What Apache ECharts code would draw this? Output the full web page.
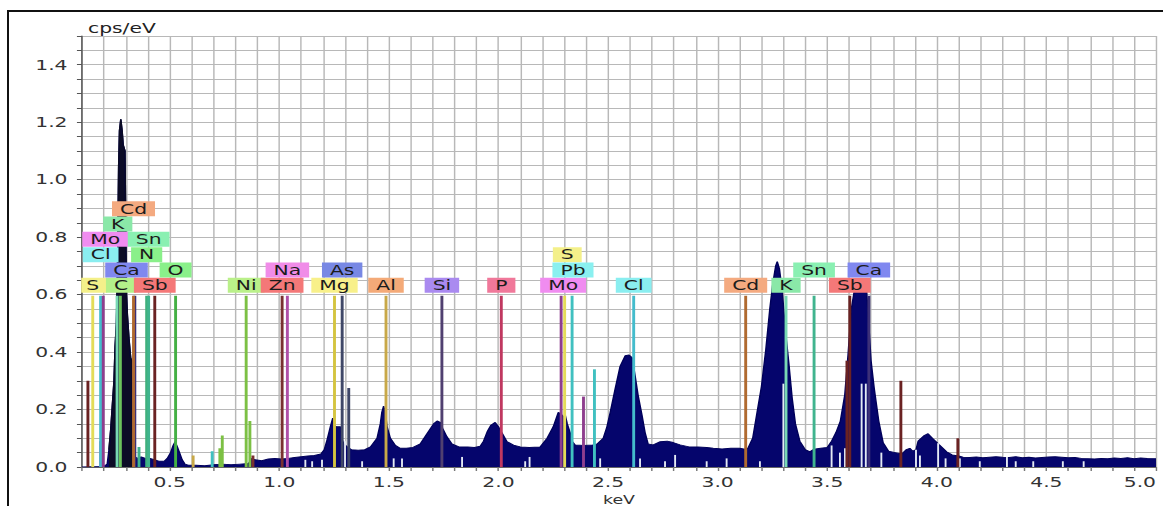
<!DOCTYPE html>
<html><head><meta charset="utf-8">
<script src="https://cdn.jsdelivr.net/npm/echarts@6/dist/echarts.min.js"></script>
<style>
html,body{margin:0;padding:0;background:#fff;overflow:hidden;width:1163px;height:506px;}
#frame{position:absolute;left:7px;top:10px;width:1200px;height:520px;border-left:2px solid #111;border-top:2px solid #111;box-sizing:border-box;}
#chart{position:absolute;left:0;top:0;width:802px;height:506px;transform:scaleX(1.45012);transform-origin:0 0;}
</style></head><body>
<div id="frame"></div>
<div id="chart"></div>
<script>
// ---------- DATA ----------
// EDS spectrum: [energy keV, cps/eV]
const spectrum = [
[0.10,0],[0.20,0.002],[0.215,0.01],[0.223,0.06],[0.231,0.13],[0.238,0.21],[0.246,0.30],[0.251,0.42],[0.257,0.50],[0.262,0.70],[0.267,1.04],[0.271,1.17],[0.277,1.21],[0.283,1.17],[0.288,1.12],[0.296,1.10],[0.300,0.80],[0.303,0.60],[0.307,0.53],[0.314,0.45],[0.322,0.38],[0.327,0.37],[0.331,0.12],[0.336,0.04],
[0.35,0.03],[0.37,0.035],[0.39,0.03],[0.41,0.03],[0.43,0.025],[0.45,0.02],[0.475,0.02],[0.489,0.03],[0.504,0.05],[0.516,0.075],[0.525,0.088],[0.535,0.07],[0.545,0.05],[0.557,0.025],[0.57,0.01],[0.585,0.006],
[0.62,0.006],[0.66,0.004],[0.70,0.008],[0.74,0.01],[0.78,0.008],[0.82,0.01],[0.86,0.012],[0.875,0.03],[0.89,0.025],[0.92,0.022],[0.95,0.028],[0.98,0.03],[1.01,0.028],[1.04,0.03],[1.07,0.033],[1.10,0.036],[1.13,0.038],[1.16,0.04],[1.19,0.045],
[1.205,0.06],[1.218,0.094],[1.233,0.14],[1.244,0.17],[1.252,0.145],[1.26,0.14],[1.279,0.14],[1.287,0.095],[1.295,0.08],[1.31,0.07],[1.33,0.06],[1.36,0.058],[1.39,0.06],[1.416,0.07],[1.446,0.10],[1.461,0.15],[1.468,0.19],[1.476,0.212],[1.484,0.19],[1.492,0.14],[1.507,0.10],[1.53,0.075],[1.552,0.065],[1.58,0.065],[1.61,0.068],
[1.643,0.08],[1.674,0.116],[1.704,0.15],[1.72,0.16],[1.735,0.155],[1.745,0.135],[1.765,0.105],[1.788,0.08],[1.82,0.07],[1.86,0.07],[1.89,0.068],[1.917,0.072],[1.932,0.09],[1.95,0.125],[1.965,0.145],[1.985,0.155],[2.0,0.14],[2.015,0.12],[2.039,0.088],[2.069,0.076],[2.10,0.07],[2.14,0.068],[2.19,0.07],
[2.222,0.10],[2.25,0.14],[2.273,0.19],[2.285,0.185],[2.295,0.175],[2.305,0.18],[2.314,0.15],[2.327,0.12],[2.336,0.09],[2.35,0.077],[2.39,0.075],[2.43,0.077],[2.45,0.08],[2.478,0.10],[2.495,0.14],[2.51,0.19],[2.532,0.27],[2.555,0.35],[2.578,0.387],[2.596,0.39],[2.61,0.38],[2.623,0.32],[2.637,0.25],[2.655,0.18],[2.669,0.12],[2.683,0.08],[2.706,0.077],[2.738,0.088],[2.77,0.09],[2.797,0.085],[2.829,0.077],[2.87,0.07],[2.91,0.07],[2.95,0.068],[2.98,0.065],[3.02,0.063],[3.06,0.065],[3.10,0.065],[3.125,0.062],
[3.138,0.065],[3.16,0.10],[3.18,0.19],[3.20,0.28],[3.22,0.41],[3.238,0.55],[3.252,0.64],[3.265,0.70],[3.272,0.715],[3.282,0.69],[3.295,0.61],[3.31,0.47],[3.325,0.36],[3.34,0.24],[3.355,0.15],[3.375,0.09],[3.40,0.06],[3.42,0.053],[3.44,0.062],[3.47,0.065],[3.50,0.068],[3.52,0.09],[3.54,0.12],[3.56,0.16],[3.58,0.25],[3.595,0.39],[3.61,0.55],[3.625,0.62],[3.64,0.64],[3.66,0.645],[3.678,0.635],[3.686,0.54],[3.70,0.37],[3.715,0.27],[3.735,0.16],[3.755,0.085],[3.78,0.055],[3.81,0.05],[3.84,0.045],[3.86,0.06],[3.877,0.065],[3.89,0.055],[3.905,0.06],[3.915,0.09],[3.94,0.108],[3.96,0.116],[3.98,0.10],[4.01,0.078],[4.045,0.053],[4.07,0.042],[4.10,0.038],
[4.12,0.034],[4.15,0.033],[4.18,0.035],[4.21,0.032],[4.24,0.034],[4.27,0.036],[4.30,0.034],[4.33,0.033],[4.36,0.036],[4.39,0.032],[4.42,0.034],[4.45,0.031],[4.48,0.033],[4.51,0.035],[4.54,0.036],[4.57,0.034],[4.60,0.032],[4.63,0.033],[4.66,0.030],[4.69,0.029],[4.72,0.028],[4.75,0.030],[4.78,0.029],[4.81,0.031],[4.84,0.030],[4.87,0.032],[4.90,0.029],[4.93,0.031],[4.96,0.030],[5.0,0.029]
];

// Identified element lines (labelled)
const elementNames = ['S','Cl','Mo','K','C','Ca','Cd','N','Sn','Sb','O','Ni','Zn','Na','Mg','As','Al','Si','P','Mo','S','Pb','Cl','Cd','K','Sn','Sb','Ca'];
const elementKeV   = [0.149,0.185,0.197,0.260,0.275,0.341,0.335,0.395,0.404,0.432,0.527,0.849,1.013,1.037,1.252,1.287,1.487,1.742,2.013,2.286,2.302,2.336,2.617,3.128,3.312,3.440,3.603,3.690];
const markerTop = 0.596;   // marker line height, cps/eV

// Secondary (unlabelled) element lines: [keV, height, element]
const minorLines = [
[0.127,0.30,'Sb'],[0.185,0.09,'Na'],[0.36,0.07,'Sn'],[0.607,0.04,'Al'],[0.694,0.055,'Pb'],[0.729,0.065,'Ni'],[0.740,0.11,'Ni'],[0.866,0.16,'Ni'],[0.88,0.04,'Zn'],
[1.317,0.275,'As'],[2.388,0.245,'Mo'],[2.438,0.34,'Pb'],[3.59,0.37,'Sb'],[3.836,0.30,'Sb'],[4.096,0.10,'Sb']
];
// Faint lines inside the spectrum: [keV, height]
const paleLines = [
[1.119,0.025],[1.150,0.02],[1.195,0.025],[1.30,0.09],[1.378,0.02],[1.522,0.03],[1.56,0.03],[1.834,0.035],[2.122,0.02],[2.142,0.035],[2.464,0.03],[2.646,0.03],[2.76,0.02],[2.806,0.042],[2.95,0.02],[3.041,0.03],[3.193,0.02],[3.30,0.29],[3.52,0.075],[3.558,0.05],[3.581,0.065],[3.657,0.29],[3.676,0.29],[3.747,0.05],[3.905,0.06],[3.923,0.04],[4.006,0.083],[4.04,0.03],[4.105,0.03],[4.196,0.02],[4.32,0.035],[4.36,0.02],[4.44,0.02],[4.575,0.02],[4.67,0.02]
];

// ---------- LAYOUT / STYLE ----------
const labelRow   = [0,2,3,4,0,1,5,2,3,0,1,0,0,1,0,1,0,0,0,0,2,1,0,0,0,1,0,1];
const labelShift = [0,0,0.009,0.003,0.003,-0.038,0,0,0,0,0,0,0,0,0,0,0,0,0,0.009,0.012,0.004,0,0,0,0,0,0];
const darkPeakRange = [0.22, 0.335];   // strongest peak drawn in near-black
const STYLE = {
  S:{box:'#f4f08a',line:'#e4dc58'}, Cl:{box:'#8aeef0',line:'#44bccc'}, Mo:{box:'#f08cf0',line:'#8e3e8e'},
  K:{box:'#8ae8a8',line:'#78d8b4'}, C:{box:'#b4f08a',line:'#6cc45c'}, Ca:{box:'#8088f0',line:'#3c3078'},
  Cd:{box:'#f4aa80',line:'#b06a30'}, N:{box:'#8af08a',line:'#40b07c'}, Sn:{box:'#8af0b2',line:'#40b48e'},
  Sb:{box:'#f47878',line:'#6a2222'}, O:{box:'#8af08a',line:'#44b044'}, Ni:{box:'#baf08a',line:'#7cc044'},
  Zn:{box:'#f47878',line:'#7a3030'}, Na:{box:'#f08ce8',line:'#b050a8'}, Mg:{box:'#f8f08a',line:'#d4c440'},
  As:{box:'#7888e4',line:'#404868'}, Al:{box:'#f4aa78',line:'#c8a848'}, Si:{box:'#aa8af0',line:'#504070'},
  P:{box:'#f0789a',line:'#c03860'}, Pb:{box:'#8af0f0',line:'#40c0c0'}
};
const FONT = '"DejaVu Sans", Verdana, sans-serif';

const chart = echarts.init(document.getElementById('chart'), null, {renderer:'svg'});

function vline(color, width) {
  return function (params, api) {
    const p0 = api.coord([api.value(0), 0]);
    const p1 = api.coord([api.value(0), api.value(1)]);
    const c = typeof color === 'function' ? color(api.value(2)) : color;
    return {type:'line', shape:{x1:p0[0], y1:p0[1], x2:p1[0], y2:p1[1]}, style:{stroke:c, lineWidth:width}};
  };
}

const option = {
  animation:false,
  backgroundColor:'transparent',
  title:{text:'cps/eV', left:60.7, top:21, padding:0,
    textStyle:{fontFamily:FONT, fontSize:14, fontWeight:'normal', color:'#222'}},
  grid:{left:56.55, right:4.83, top:36, bottom:39, containLabel:false, outerBoundsMode:'none'},
  xAxis:{type:'value', min:0.1, max:5.0, interval:0.1,
    axisLine:{show:true, onZero:false, lineStyle:{color:'#666', width:1}},
    axisTick:{show:true, length:4, lineStyle:{color:'#777'}},
    axisLabel:{fontFamily:FONT, fontSize:14, color:'#333', margin:8, showMaxLabel:true, showMinLabel:true,
      alignMaxLabel:'right',
      formatter:v => (Math.abs(v*2 - Math.round(v*2)) < 1e-6) ? v.toFixed(1) : ''},
    splitLine:{show:true, lineStyle:{color:'#b8b8b8', width:1}},
    name:'keV', nameLocation:'middle', nameGap:23,
    nameTextStyle:{fontFamily:FONT, fontSize:12, color:'#333'}},
  yAxis:{type:'value', min:0, max:1.5, interval:0.05,
    axisLine:{show:true, lineStyle:{color:'#555', width:1}},
    axisTick:{show:true, length:3.5, lineStyle:{color:'#555'}},
    axisLabel:{fontFamily:FONT, fontSize:14, color:'#333', margin:10,
      formatter:v => (Math.abs(v*5 - Math.round(v*5)) < 1e-6) ? v.toFixed(1) : ''},
    splitLine:{show:true, lineStyle:{color:'#b8b8b8', width:1}}},
  series:[
    {type:'line', data:spectrum, symbol:'none', silent:true, z:2,
      lineStyle:{color:'#00005a', width:1}, areaStyle:{color:'#05056c', opacity:1}},
    {type:'line', data:spectrum.filter(d => d[0] >= darkPeakRange[0] && d[0] <= darkPeakRange[1]),
      symbol:'none', silent:true, z:2,
      lineStyle:{color:'#0a0a22', width:1}, areaStyle:{color:'#0c0c26', opacity:1}},
    {type:'custom', silent:true, z:3, clip:true,
      data:paleLines, encode:{x:0, y:1},
      renderItem:vline('#e4eaf4', 1.3)},
    {type:'custom', silent:true, z:4, clip:true,
      data:minorLines.map(d => [d[0], d[1], d[2]]), encode:{x:0, y:1},
      renderItem:vline(el => STYLE[el].line, 2)},
    {type:'custom', silent:true, z:5, clip:true,
      data:elementKeV.map((e,i) => [e, markerTop, elementNames[i]]), encode:{x:0, y:1},
      renderItem:vline(el => STYLE[el].line, 2)},
    {type:'custom', silent:true, z:6, clip:true,
      data:elementKeV.map((e,i) => [e + labelShift[i], markerTop, i]), encode:{x:0, y:1},
      renderItem:function (params, api) {
        const i = api.value(2);
        const name = elementNames[i];
        const p = api.coord([api.value(0), api.value(1)]);
        const y = p[1] - 10.5 - labelRow[i]*15.3;
        return {type:'text', x:p[0], y:y,
          style:{text:name, font:'14px ' + FONT, fill:'#1c1c1c', align:'center', verticalAlign:'middle',
            backgroundColor:STYLE[name].box, padding:[1,5.5,0,5.5], lineHeight:14}};
      }}
  ]
};
chart.setOption(option);
</script></body></html>
